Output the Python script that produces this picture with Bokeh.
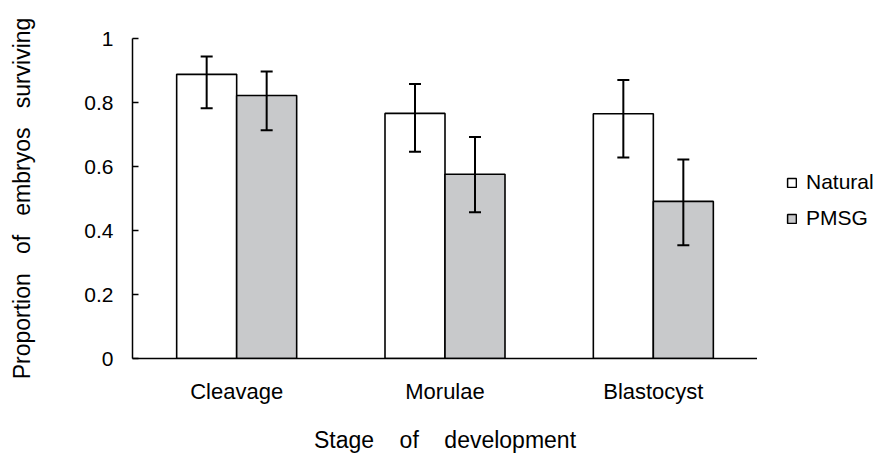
from bokeh.plotting import figure
from bokeh.layouts import row
from bokeh.models import ColumnDataSource, Whisker, Legend, LegendItem, FixedTicker, Range1d
from bokeh.transform import dodge
from bokeh.embed import file_html
from bokeh.resources import INLINE

stages = ["Cleavage", "Morulae", "Blastocyst"]
natural = [0.888, 0.766, 0.765]
natural_upper = [0.944, 0.858, 0.870]
natural_lower = [0.782, 0.646, 0.628]
pmsg = [0.822, 0.576, 0.491]
pmsg_upper = [0.897, 0.692, 0.622]
pmsg_lower = [0.713, 0.457, 0.354]
y_ticks = [0, 0.2, 0.4, 0.6, 0.8, 1]
y_tick_labels = ["0", "0.2", "0.4", "0.6", "0.8", "1"]
series_names = ["Natural", "PMSG"]
series_colors = ["white", "#c8c9cb"]

FONT = "Liberation Sans"
SP3 = " \u00a0\u00a0"
SP4 = " \u00a0\u00a0\u00a0"

src = ColumnDataSource(dict(
    stage=stages, natural=natural, nu=natural_upper, nl=natural_lower,
    pmsg=pmsg, pu=pmsg_upper, pl=pmsg_lower))

p = figure(x_range=stages, y_range=(0, 1), width=757, height=455,
           output_backend="svg", toolbar_location=None,
           min_border_left=132, min_border_right=0,
           min_border_top=38, min_border_bottom=96)
p.x_range.range_padding = 0

bw = 0.288
off = 0.144
r1 = p.vbar(x=dodge("stage", -off, range=p.x_range), top="natural", width=bw,
            source=src, fill_color=series_colors[0], line_color="black", line_width=1.6)
r2 = p.vbar(x=dodge("stage", off, range=p.x_range), top="pmsg", width=bw,
            source=src, fill_color=series_colors[1], line_color="black", line_width=1.6)

w1 = Whisker(base=dodge("stage", -off, range=p.x_range), upper="nu", lower="nl",
             source=src, line_width=2, line_color="black", level="overlay")
w2 = Whisker(base=dodge("stage", off, range=p.x_range), upper="pu", lower="pl",
             source=src, line_width=2, line_color="black", level="overlay")
for w in (w1, w2):
    w.upper_head.size = 12
    w.lower_head.size = 12
    w.upper_head.line_width = 2
    w.lower_head.line_width = 2
    p.add_layout(w)

p.grid.visible = False
p.outline_line_color = None
p.background_fill_color = "white"

p.yaxis.ticker = FixedTicker(ticks=y_ticks)
p.yaxis.major_label_overrides = {t: l for t, l in zip(y_ticks, y_tick_labels)}
p.yaxis.major_tick_in = 6
p.yaxis.major_tick_out = 0
p.yaxis.minor_tick_line_color = None
p.yaxis.major_label_standoff = 19
p.yaxis.axis_label = SP3.join(["Proportion", "of", "embryos", "surviving"])
p.yaxis.axis_label_standoff = 46
p.yaxis.major_label_text_font_size = "21px"

p.xaxis.major_tick_line_color = None
p.xaxis.major_tick_in = 0
p.xaxis.major_tick_out = 0
p.xaxis.major_label_standoff = 20
p.xaxis.axis_label = SP4.join(["Stage", "of", "development"])
p.xaxis.axis_label_standoff = 20
p.xaxis.major_label_text_font_size = "22px"

for ax in (p.xaxis, p.yaxis):
    ax.axis_line_color = "black"
    ax.axis_line_width = 1.5
    ax.major_tick_line_width = 1.5
    ax.major_label_text_font = FONT
    ax.major_label_text_color = "black"
    ax.axis_label_text_font = FONT
    ax.axis_label_text_font_size = "23px"
    ax.axis_label_text_font_style = "normal"
    ax.axis_label_text_color = "black"

# legend panel
p2 = figure(width=129, height=455, output_backend="svg", toolbar_location=None,
            x_range=Range1d(0, 1), y_range=Range1d(0, 1),
            x_axis_location=None, y_axis_location=None,
            min_border_left=0, min_border_right=0,
            min_border_top=0, min_border_bottom=0)
p2.grid.visible = False
p2.outline_line_color = None
nan = float("nan")
lr = [p2.vbar(x=[nan], top=[nan], width=0.1, fill_color=c,
              line_color="black", line_width=1.5) for c in series_colors]
legend = Legend(items=[LegendItem(label=n, renderers=[r]) for n, r in zip(series_names, lr)],
                location=(29, 128), border_line_color=None,
                background_fill_alpha=0,
                glyph_width=11, glyph_height=11, label_standoff=9,
                label_text_font=FONT, label_text_font_size="21px",
                label_text_color="black",
                label_height=24, spacing=12, padding=0, margin=0)
p2.add_layout(legend)

layout = row(p, p2, spacing=0)
open("out.html", "w").write(file_html(layout, INLINE))
